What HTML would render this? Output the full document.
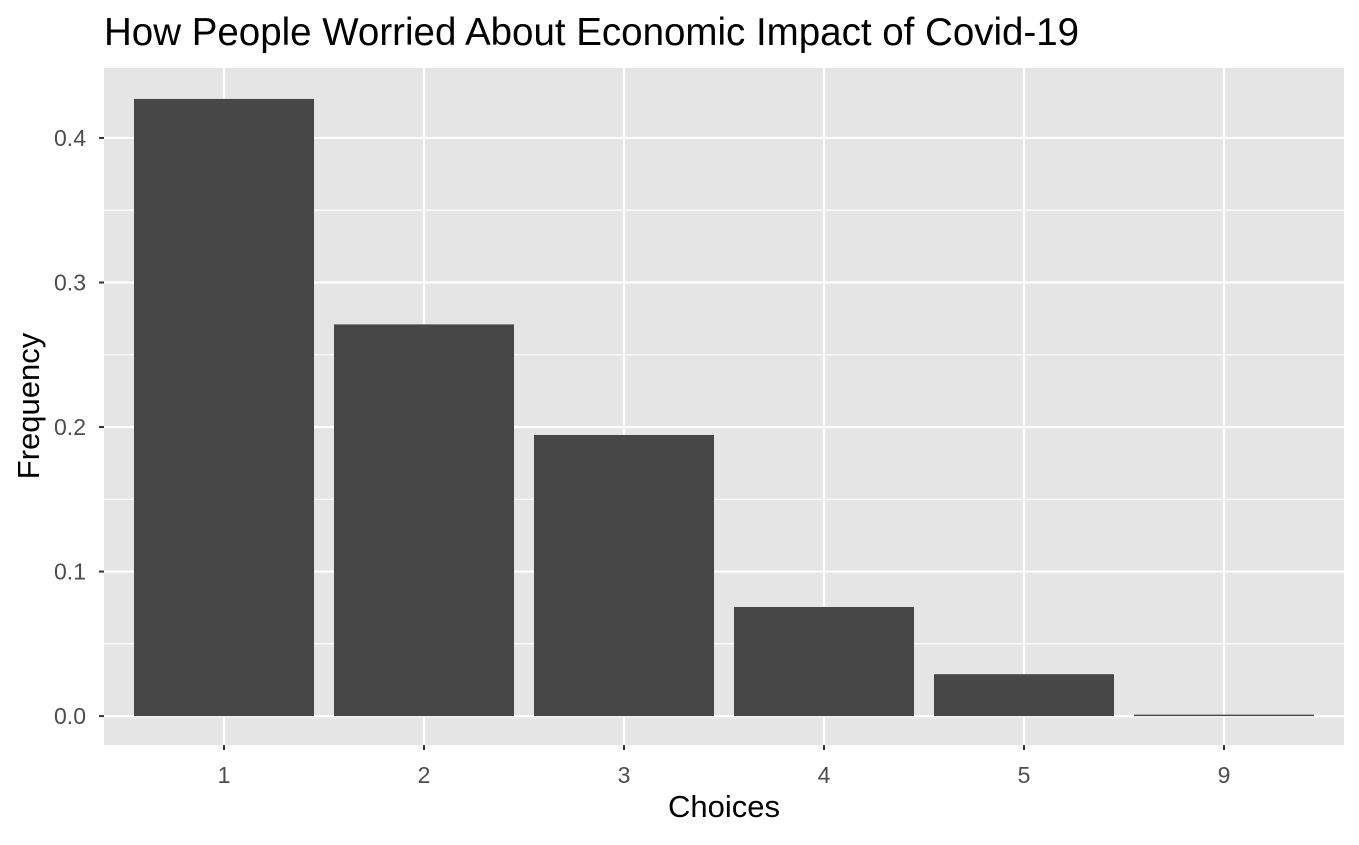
<!DOCTYPE html>
<html><head><meta charset="utf-8"><style>
body{margin:0;background:#fff;font-family:"Liberation Sans",Arial,sans-serif}
</style></head><body>
<svg id="chart" width="1359" height="840" xmlns="http://www.w3.org/2000/svg" font-family="Liberation Sans, Arial, sans-serif">
<text x="104" y="45" font-size="38.5" fill="#000">How People Worried About Economic Impact of Covid-19</text>
<rect x="104" y="68" width="1240" height="677" fill="#e5e5e5"/>
<g id="grid"></g><g id="bars"></g><g id="axes"></g>
<text x="724" y="817" font-size="31" text-anchor="middle" fill="#000">Choices</text>
<text transform="translate(39,406) rotate(-90)" font-size="31" text-anchor="middle" fill="#000">Frequency</text>
</svg>
<script>
const categories=["1","2","3","4","5","9"];
const values=[0.427,0.271,0.1945,0.0755,0.029,0.001];
const yTicks=[0,0.1,0.2,0.3,0.4];
const yTickLabels=["0.0","0.1","0.2","0.3","0.4"];
const ns="http://www.w3.org/2000/svg";
const X0=104,W=1240,Y0=68,H=677,yMin=-0.02,yMax=0.4484;
const y=v=>Y0+H-(v-yMin)/(yMax-yMin)*H;
const band=W/(categories.length+0.2);
const xc=i=>X0+band*0.6+band*i;
const g=document.getElementById('grid'),b=document.getElementById('bars'),a=document.getElementById('axes');
function mk(t,at,p){const e=document.createElementNS(ns,t);for(const k in at)e.setAttribute(k,at[k]);p.appendChild(e);return e;}
for(let i=0;i<yTicks.length;i++){
 const v=yTicks[i];
 const l=mk('line',{x1:X0,x2:X0+W,y1:y(v),y2:y(v),stroke:'#fff','stroke-width':2.2},g);
 
 
 if(y(v+0.05)>Y0){const m=mk('line',{x1:X0,x2:X0+W,y1:y(v+0.05),y2:y(v+0.05),stroke:'#fff','stroke-width':1.1},g);
 
 }
 const tk=mk('line',{x1:X0-5,x2:X0,y1:y(v),y2:y(v),stroke:'#333','stroke-width':2},a);
 
 
 const t=mk('text',{x:X0-18,y:y(v)+8,'font-size':23,fill:'#4d4d4d','text-anchor':'end'},a);
 t.textContent=yTickLabels[i];
 
 
}
categories.forEach((c,i)=>{
 const cx=xc(i);
 const l=mk('line',{x1:cx,x2:cx,y1:Y0,y2:Y0+H,stroke:'#fff','stroke-width':2.2},g);
 
 
 const r=mk('rect',{x:cx-band*0.45,width:band*0.9,y:Math.min(y(values[i]),y(0)),height:Math.abs(y(0)-y(values[i])),fill:'#474747'},b);
 
 
 const tk=mk('line',{x1:cx,x2:cx,y1:Y0+H,y2:Y0+H+5,stroke:'#333','stroke-width':2},a);
 
 
 const t=mk('text',{x:cx,y:Y0+H+38,'font-size':23,fill:'#4d4d4d','text-anchor':'middle'},a);
 t.textContent=c;
 
 
});
</script>
</body></html>
